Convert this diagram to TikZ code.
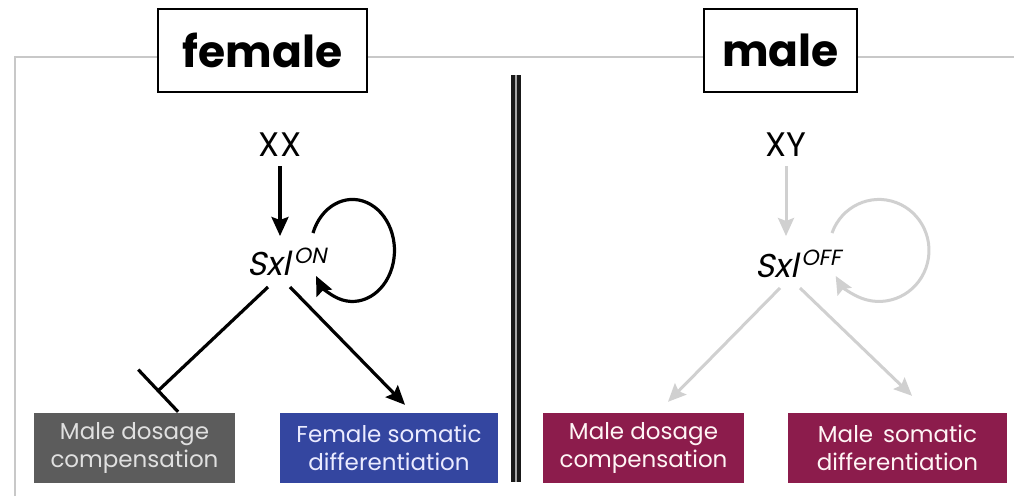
\documentclass[tikz,border=0pt]{standalone}
\usepackage{fontspec}
\setmainfont{Poppins}
\newfontfamily\slantfont{Poppins}[FakeSlant=0.2]
\usetikzlibrary{arrows.meta}
\definecolor{framegray}{RGB}{200,200,200}
\definecolor{boxgray}{RGB}{92,92,92}
\definecolor{boxblue}{RGB}{52,70,160}
\definecolor{boxmag}{RGB}{140,28,76}
\definecolor{offgray}{RGB}{208,208,208}
\tikzset{
  titlebox/.style={draw=black, line width=1.8pt, fill=white, minimum height=83pt,
    font=\fontsize{44}{50}\selectfont\bfseries, inner sep=0pt},
  geno/.style={font=\fontsize{34}{38}\selectfont, inner sep=1pt},
  gene/.style={font=\fontsize{33}{36}\slantfont, inner sep=1pt},
  outbox/.style={minimum width=201pt, minimum height=70pt, inner sep=0pt, align=center,
    font=\fontsize{23}{28}\selectfont},
  onarrow/.style={line width=3.2pt, -{Stealth[length=19pt,width=17pt,inset=3pt]}},
  offarrow/.style={line width=3pt, draw=offgray, -{Stealth[length=18pt,width=16pt,inset=3pt]}},
  inhibit/.style={line width=3.2pt, -{Bar[width=58pt,line width=3.2pt]}},
}
\begin{document}
\begin{tikzpicture}[x=1pt,y=-1pt]
\useasboundingbox (0,0) rectangle (1014,496);
\fill[white] (0,0) rectangle (1014,496);
% frame
\draw[framegray, line width=2pt] (15,496) -- (15,57) -- (1014,57);
% divider
\fill[black!90] (511,75) rectangle (514.5,482);
\fill[gray!70] (514.5,75) rectangle (517,482);
\fill[black!90] (517,75) rectangle (521,482);
% titles
\node[titlebox, minimum width=209pt] (female) at (262.5,50.5) {female};
\node[titlebox, minimum width=153pt] (male) at (780.5,50.5) {male};
% female side
\node[geno] (XX) at (280,145) {XX};
\node[gene] (SxlON) at (287,262) {Sxl\kern3pt\raisebox{0.38em}{\fontsize{22}{24}\selectfont ON}};
\node[outbox, fill=boxgray, text=black!12] (mdc1) at (134.5,448) {Male dosage\\compensation};
\node[outbox, fill=boxblue, text=blue!8, minimum width=218pt] (fsd) at (389,448) {Female somatic\\differentiation};
\draw[onarrow] ([yshift=-8pt]XX.south) -- (280,236);
\draw[onarrow] (313,233) arc[start angle=200, end angle=510, x radius=42, y radius=51];
\draw[inhibit] ([shift={(-19,25)}]SxlON.center) -- ([shift={(22.5,-21)}]mdc1.north);
\draw[onarrow] ([shift={(3,25)}]SxlON.center) -- ([shift={(16,-8)}]fsd.north);
% male side
\node[geno] (XY) at (786,145) {XY};
\node[gene] (SxlOFF) at (798,264) {Sxl\kern3pt\raisebox{0.38em}{\fontsize{22}{24}\selectfont OFF}};
\node[outbox, fill=boxmag, text=red!4] (mdc2) at (643.5,448) {Male dosage\\compensation};
\node[outbox, fill=boxmag, text=red!4, minimum width=219pt] (msd) at (897.5,448) {Male\, somatic\\differentiation};
\draw[offarrow] ([yshift=-8pt]XY.south) -- (786,236);
\draw[offarrow] (832,233) arc[start angle=200, end angle=510, x radius=50, y radius=51];
\draw[offarrow] ([shift={(-18,24)}]SxlOFF.center) -- ([shift={(24.5,-11)}]mdc2.north);
\draw[offarrow] ([shift={(2,24)}]SxlOFF.center) -- ([shift={(14.5,-17)}]msd.north);
\end{tikzpicture}
\end{document}
